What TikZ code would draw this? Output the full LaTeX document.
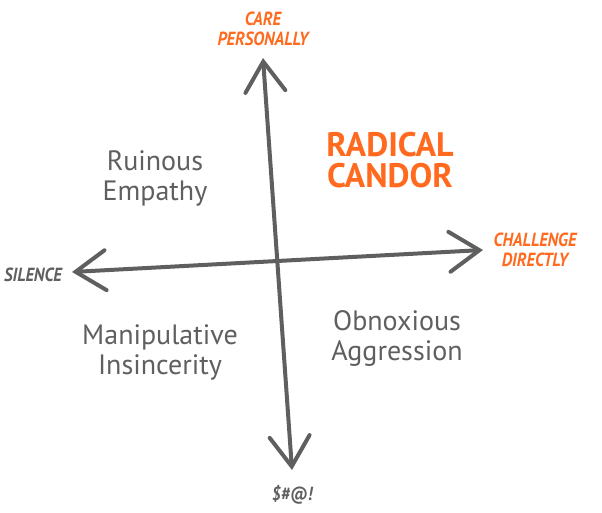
\documentclass[tikz,border=0pt]{standalone}
\usepackage{fontspec}
\setmainfont{PT Sans}
\newfontfamily\axisfont[FakeStretch=0.88]{PT Sans}
\usetikzlibrary{arrows.meta,positioning,calc}
\definecolor{candor}{HTML}{FF6A1F}
\definecolor{pencil}{HTML}{5F5F5F}
\tikzset{>={Straight Barb[length=30pt,width=40pt,line cap=round]}}
\tikzset{
  axislbl/.style={align=center,inner sep=0pt,font=\axisfont\bfseries\itshape\fontsize{19}{20}\selectfont},
  quadlbl/.style={align=center,inner sep=0pt,text=pencil,font=\fontsize{28}{30}\selectfont},
}

\begin{document}
\begin{tikzpicture}[x=1pt,y=-1pt,line width=4pt]
\useasboundingbox (0,0) rectangle (602,513);

\coordinate (top) at (263,58);
\coordinate (bot) at (292,470);
\coordinate (lft) at (72,272);
\coordinate (rgt) at (483,250);

\node [axislbl,text=candor] (care) at (263,29) {CARE\\PERSONALLY};
\node [axislbl,text=candor] (challenge) at (535,250) {CHALLENGE\\DIRECTLY};
\node [axislbl,text=pencil] (silence) at (33,275) {SILENCE};
\node [axislbl,text=pencil] (curse) at (292,495) {\$\#@!};

\node [quadlbl] (ruinous) at (155,178) {Ruinous\\Empathy};
\node [quadlbl,text=candor,font=\bfseries\fontsize{34}{31}\selectfont] (radical) at (390,160) {RADICAL\\CANDOR};
\node [quadlbl] (manip) at (160,352) {Manipulative\\Insincerity};
\node [quadlbl] (obnox) at (397,338) {Obnoxious\\Aggression};

\begin{scope}[line width=4pt,line cap=round,line join=round]
\draw[<->,color=pencil] (bot) to (top);
\draw[<->,color=pencil] (lft) to (rgt);
\end{scope}

\end{tikzpicture}
\end{document}
